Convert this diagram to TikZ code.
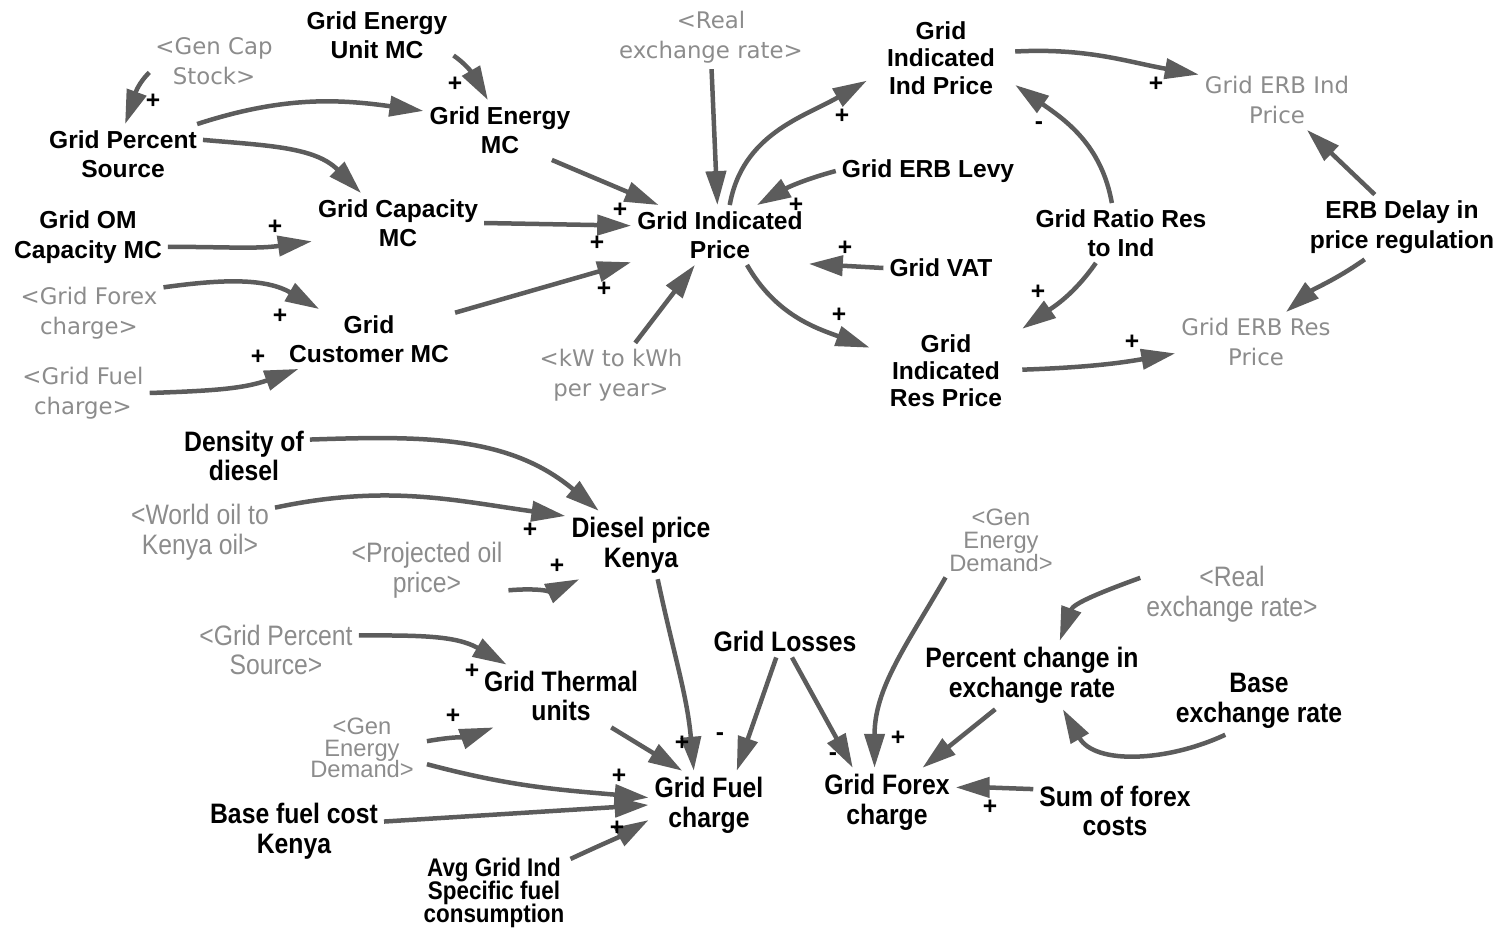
\documentclass[tikz,border=0pt]{standalone}
\usepackage{fontspec}
\setmainfont{Liberation Sans}
\newfontfamily\ghostfont{DejaVu Sans}
\newfontfamily\narrowfont{Liberation Sans}[FakeStretch=0.88]
\usetikzlibrary{arrows.meta}
\definecolor{ghost}{gray}{0.55}
\definecolor{linkgray}{gray}{0.36}
% let lines sit closer than their glyph heights
\newcommand\squeezelines{\lineskiplimit=-50pt\relax\lineskip=0pt\relax}
\tikzset{
  lbl/.style={inner sep=1.5pt, outer sep=2pt, align=center},
  var/.style={lbl, font=\bfseries\fontsize{14}{16.8}\selectfont},
  shadow/.style={lbl, text=ghost, font=\ghostfont\fontsize{13}{17}\selectfont},
  nvar/.style={lbl, font=\narrowfont\bfseries\fontsize{16}{17}\selectfont},
  nshadow/.style={lbl, text=ghost, font=\narrowfont\fontsize{16}{17}\selectfont},
  stack/.style={lbl, text=ghost},
  link/.style={draw=linkgray, line width=0.09cm, -{Triangle[length=0.68cm,width=0.40cm]}},
  pol/.style={font=\bfseries\fontsize{14}{14}\selectfont, inner sep=0pt},
}
\begin{document}
\begin{tikzpicture}[x=0.02cm, y=-0.02cm]
\useasboundingbox (0,0) rectangle (1500,930);

% ---------- price block ----------
\node[var] (geumc) at (377,35) {Grid Energy\\Unit MC};
\node[shadow] (gencap) at (214,61) {<Gen Cap\\Stock>};
\node[var] (gps) at (123,154) {Grid Percent\\Source};
\node[var] (gem) at (500,130) {Grid Energy\\MC};
\node[var] (gcap) at (398,223) {Grid Capacity\\MC};
\node[var] (gom) at (88,237) {Grid OM\\Capacity MC};
\node[shadow] (gforexin) at (89,313) {<Grid Forex\\charge>};
\node[var] (gcust) at (369,339) {Grid\\Customer MC};
\node[shadow] (gfuelin) at (83,393) {<Grid Fuel\\charge>};
\node[shadow] (realx) at (711,37) {<Real\\exchange rate>};
\node[var] (gip) at (720,235) {Grid Indicated\\Price};
\node[shadow] (kw) at (611,375) {<kW to kWh\\per year>};
\node[var, outer xsep=10pt, font=\bfseries\fontsize{14}{15.8}\selectfont] (gindind) at (941,58) {Grid\\Indicated\\Ind Price};
\node[var] (erblevy) at (928,171) {Grid ERB Levy};
\node[var] (gvat) at (941,268) {Grid VAT};
\node[var, outer xsep=10pt, font=\bfseries\fontsize{14}{15.4}\selectfont] (gindres) at (946,371) {Grid\\Indicated\\Res Price};
\node[var] (gratio) at (1121,233) {Grid Ratio Res\\to Ind};
\node[shadow] (erbind) at (1277,100) {Grid ERB Ind\\Price};
\node[var] (erbdelay) at (1402,227) {ERB Delay in\\price regulation};
\node[shadow] (erbres) at (1256,342) {Grid ERB Res\\Price};

% ---------- fuel and forex block ----------
\node[nvar] (density) at (244,456) {Density of\\diesel};
\node[nshadow] (worldoil) at (200,532) {<World oil to\\Kenya oil>};
\node[nvar] (diesel) at (641,545) {Diesel price\\Kenya};
\node[nshadow] (projoil) at (427,570) {<Projected oil\\price>};
\node[nshadow] (gpsrc2) at (276,650) {<Grid Percent\\Source>};
\node[nvar] (gtherm) at (561,696) {Grid Thermal\\units};
\node[stack, outer xsep=6pt, font=\fontsize{13.5}{12.3}\selectfont\squeezelines] (ged1) at (362,748) {<Gen\\Energy\\Demand>};
\node[nvar] (glosses) at (785,641) {Grid Losses};
\node[nvar] (basefuel) at (294,831) {Base fuel cost\\Kenya};
\node[nvar] (gfuelc) at (709,805) {Grid Fuel\\charge};
\node[nvar, font=\narrowfont\bfseries\fontsize{14.5}{13}\selectfont\squeezelines] (avg) at (494,893) {Avg Grid Ind\\Specific fuel\\consumption};
\node[stack, font=\fontsize{13.5}{13}\selectfont\squeezelines] (ged2) at (1001,540) {<Gen\\Energy\\Demand>};
\node[nshadow] (realx2) at (1232,594) {<Real\\exchange rate>};
\node[nvar] (pchange) at (1032,675) {Percent change in\\exchange rate};
\node[nvar] (baseexch) at (1259,701) {Base\\exchange rate};
\node[nvar] (gforex) at (887,802) {Grid Forex\\charge};
\node[nvar] (sumforex) at (1115,811) {Sum of forex\\costs};

% ---------- links, price block ----------
\draw[link] (gencap.190) to[out=225,in=70] (gps.86);
\draw[link] (geumc.345) to[out=-35,in=120] (gem.112);
\draw[link] (gps.22) to[out=18,in=172] (gem.166);
\draw[link] (gps.10) to[out=-5,in=135] (gcap.141);
\draw[link] (gom.-7) to[out=0,in=188] (gcap.192);
\draw[link] (gforexin.19) to[out=8,in=150] (gcust.149);
\draw[link] (gfuelin.0) to[out=2,in=200] (gcust.203);
\draw[link] (gem.-30) -- (gip.154);
\draw[link] (gcap.0) -- (gip.174);
\draw[link] (gcust.17) -- (gip.197);
\draw[link] (realx.271) -- (gip.95);
\draw[link] (kw.53) -- (gip.230);
\draw[link] (gip.72) to[out=80,in=210] (gindind.197);
\draw[link] (erblevy.180) to[out=195,in=30] (gip.39);
\draw[link] (gvat.180) -- (gip.342);
\draw[link] (gip.312) to[out=-60,in=160] (gindres.163);
\draw[link] (gindind.5) to[out=3,in=170] (erbind.162);
\draw[link] (gratio.107) to[out=100,in=-35] (gindind.340);
\draw[link] (gratio.230) to[out=235,in=35] (gindres.29);
\draw[link] (gindres.1) to[out=2,in=190] (erbres.188);
\draw[link] (erbdelay.130) -- (erbind.-45);
\draw[link] (erbdelay.221) to[out=215,in=40] (erbres.45);

% ---------- links, fuel and forex block ----------
\draw[link] (density.14) to[out=2,in=140] (diesel.141);
\draw[link] (worldoil.18) to[out=12,in=172] (diesel.159);
\draw[link] (projoil.-14) to[out=5,in=205] (diesel.209);
\draw[link] (diesel.296) to[out=-78,in=95] (gfuelc.114);
\draw[link] (gpsrc2.10) to[out=0,in=150] (gtherm.150);
\draw[link] (ged1.6) to[out=10,in=200] (gtherm.205);
\draw[link] (gtherm.-32) -- (gfuelc.128);
\draw[link] (ged1.-14) to[out=-15,in=175] (gfuelc.173);
\draw[link] (basefuel.6) -- (gfuelc.180);
\draw[link] (avg.24) to[out=25,in=210] (gfuelc.194);
\draw[link] (glosses.242) -- (gfuelc.51);
\draw[link] (glosses.293) -- (gforex.135);
\draw[link] (ged2.214) to[out=240,in=90] (gforex.110);
\draw[link] (realx2.170) to[out=200,in=70] (pchange.51);
\draw[link] (pchange.223) -- (gforex.44);
\draw[link] (baseexch.225) to[out=205,in=-60] (pchange.312);
\draw[link] (sumforex.165) to[out=178,in=0] (gforex.12);

% ---------- polarities ----------
\node[pol] (s1) at (153,101) {+};
\node[pol] (s2) at (455,84) {+};
\node[pol] (s3) at (275,227) {+};
\node[pol] (s4) at (280,316) {+};
\node[pol] (s5) at (258,357) {+};
\node[pol] (s6) at (620,210) {+};
\node[pol] (s7) at (597,243) {+};
\node[pol] (s8) at (604,289) {+};
\node[pol] (s9) at (796,205) {+};
\node[pol] (s10) at (845,248) {+};
\node[pol] (s11) at (842,116) {+};
\node[pol] (s12) at (839,315) {+};
\node[pol] (s13) at (1156,84) {+};
\node[pol] (s14) at (1039,126) {-};
\node[pol] (s15) at (1038,292) {+};
\node[pol] (s16) at (1132,342) {+};
\node[pol] (s17) at (530,530) {+};
\node[pol] (s18) at (557,566) {+};
\node[pol] (s19) at (682,743) {+};
\node[pol] (s20) at (720,737) {-};
\node[pol] (s21) at (472,671) {+};
\node[pol] (s22) at (453,716) {+};
\node[pol] (s23) at (619,776) {+};
\node[pol] (s24) at (617,828) {+};
\node[pol] (s25) at (833,757) {-};
\node[pol] (s26) at (898,738) {+};
\node[pol] (s27) at (990,807) {+};
\end{tikzpicture}
\end{document}
